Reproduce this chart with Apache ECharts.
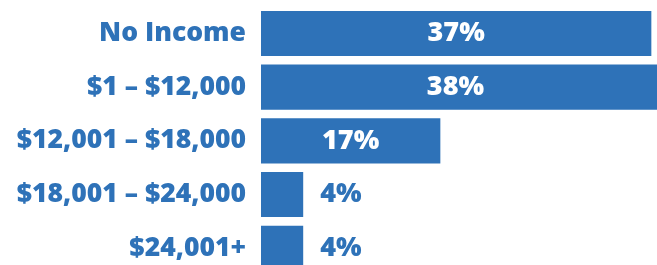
<!DOCTYPE html>
<html>
<head>
<meta charset="utf-8">
<script src="https://cdn.jsdelivr.net/npm/echarts@6/dist/echarts.min.js"></script>
<style>html,body{margin:0;padding:0;background:#fff;}#c{width:657px;height:265px;}</style>
</head>
<body>
<div id="c"></div>
<script>
var categories = ['No Income', '$1 \u2013 $12,000', '$12,001 \u2013 $18,000', '$18,001 \u2013 $24,000', '$24,001+'];
var values = [37, 38, 17, 4, 4];

var BLUE = '#2E72B8';
var FONT = '"Open Sans", sans-serif';

var chart = echarts.init(document.getElementById('c'), null, {renderer: 'canvas'});
chart.setOption({
  animation: false,
  backgroundColor: '#ffffff',
  grid: {left: 261, top: 6.6, width: 422, height: 268.5, outerBoundsMode: 'none'},
  xAxis: {type: 'value', min: 0, max: 40, show: false},
  yAxis: {
    type: 'category', data: categories, inverse: true,
    axisLine: {show: false}, axisTick: {show: false}, splitLine: {show: false},
    axisLabel: {color: BLUE, fontFamily: FONT, fontWeight: 800, fontSize: 26.5, margin: 15}
  },
  series: [{
    type: 'bar',
    data: values.map(function (v, i) {
      var big = v >= 10;
      var lab = big ? {position: 'inside', color: '#ffffff'} : {position: 'right', color: BLUE, distance: 17};
      if (i === 1) lab.offset = [-6, 0];
      return {value: v, label: lab};
    }),
    barCategoryGap: '16%',
    itemStyle: {color: BLUE},
    label: {show: true, formatter: '{c}%', fontFamily: FONT, fontWeight: 800, fontSize: 27}
  }]
});
</script>
</body>
</html>
